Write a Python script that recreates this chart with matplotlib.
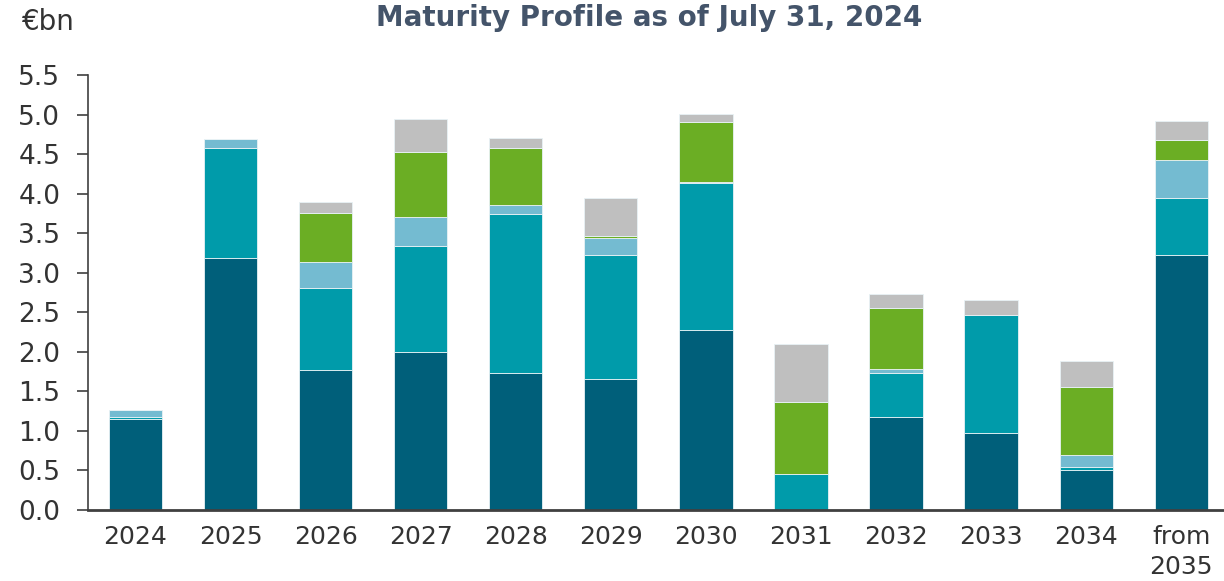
import matplotlib
matplotlib.use("Agg")
import matplotlib.pyplot as plt
import numpy as np

# Maturity buckets
categories = ["2024", "2025", "2026", "2027", "2028", "2029", "2030",
              "2031", "2032", "2033", "2034", "from\n2035"]

# Stacked components (€bn), bottom to top
series_1 = [1.15, 3.18, 1.77, 2.00, 1.73, 1.66, 2.27, 0.00, 1.17, 0.97, 0.51, 3.22]
series_2 = [0.02, 1.40, 1.04, 1.34, 2.01, 1.56, 1.86, 0.45, 0.56, 1.49, 0.03, 0.72]
series_3 = [0.10, 0.11, 0.32, 0.37, 0.11, 0.22, 0.02, 0.00, 0.05, 0.00, 0.16, 0.48]
series_4 = [0.00, 0.00, 0.62, 0.82, 0.73, 0.02, 0.75, 0.92, 0.78, 0.00, 0.85, 0.26]
series_5 = [0.00, 0.00, 0.15, 0.41, 0.12, 0.48, 0.11, 0.73, 0.17, 0.19, 0.33, 0.24]

colors = ["#005F7A", "#009BAA", "#74BBD1", "#6BAE24", "#BFBFBF"]
yticks = [0.0, 0.5, 1.0, 1.5, 2.0, 2.5, 3.0, 3.5, 4.0, 4.5, 5.0, 5.5]

plt.rcParams["font.family"] = ["DejaVu Sans"]

fig = plt.figure(figsize=(12.24, 5.81), dpi=100)
ax = fig.add_axes([88 / 1224, 71 / 581, 1 - 88 / 1224, 435 / 581])

x = np.arange(len(categories))
bottom = np.zeros(len(categories))
for vals, col in zip([series_1, series_2, series_3, series_4, series_5], colors):
    vals = np.array(vals)
    ax.bar(x, vals, width=0.56, bottom=bottom, color=col,
           edgecolor="#E8F2F5", linewidth=0.6, zorder=2)
    bottom += vals

ax.set_ylim(0, 5.5)
ax.set_xlim(-0.5, 11.45)
ax.set_yticks(yticks)
ax.set_yticklabels([f"{v:.1f}" for v in yticks])
ax.set_xticks(x)
ax.set_xticklabels(categories, linespacing=1.3)

for s in ["top", "right"]:
    ax.spines[s].set_visible(False)
ax.spines["left"].set_color("#404040")
ax.spines["left"].set_linewidth(1.2)
ax.spines["bottom"].set_color("#404040")
ax.spines["bottom"].set_linewidth(2.0)
ax.spines["bottom"].set_zorder(3)

ax.tick_params(axis="y", length=8, width=1.2, color="#404040",
               labelsize=19, labelcolor="#333333", pad=12)
ax.tick_params(axis="x", length=0, labelsize=18, labelcolor="#333333", pad=11)
for lbl in ax.get_xticklabels():
    lbl.set_verticalalignment("top")

fig.text(22 / 1224, 1 - 22 / 581, "€bn", fontsize=20, color="#333333",
         ha="left", va="center")
fig.text(649 / 1224, 1 - 18 / 581, "Maturity Profile as of July 31, 2024",
         fontsize=20, fontweight="bold", color="#44546A", ha="center", va="center")

fig.savefig("out.png", dpi=100)
